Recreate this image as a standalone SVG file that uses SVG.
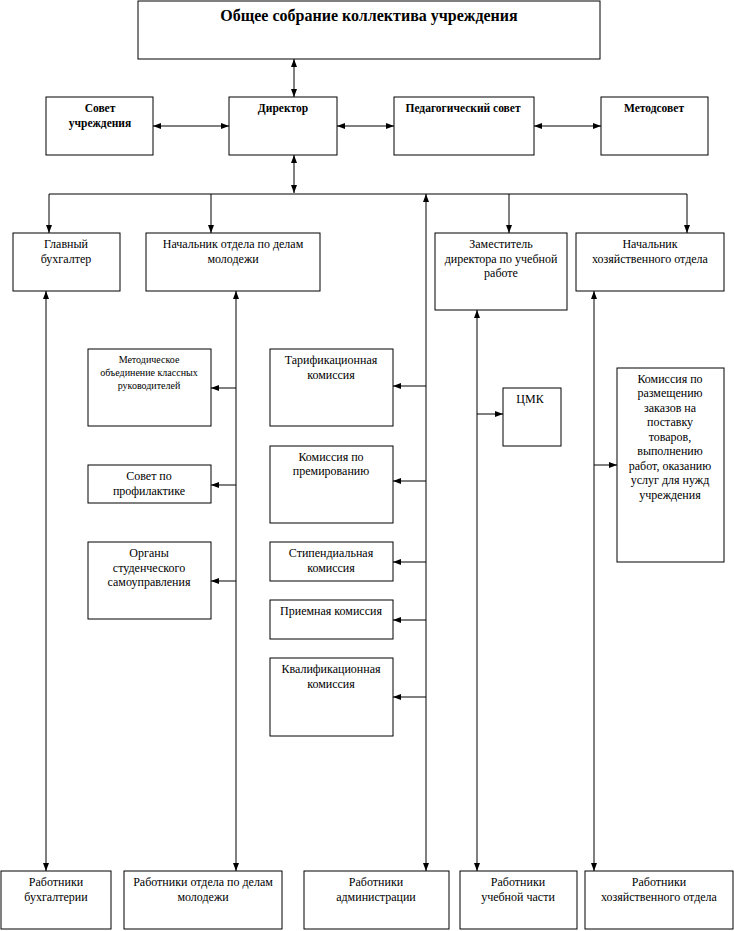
<svg xmlns="http://www.w3.org/2000/svg" width="734" height="931" viewBox="0 0 734 931">
<style>
rect{fill:#fff;stroke:#000;stroke-width:1}
text{font-family:'Liberation Serif','Times New Roman','DejaVu Serif',serif;font-size:12px;fill:#000;text-anchor:middle}
.b{font-weight:bold;font-size:11.5px}
.t{font-weight:bold;font-size:16px}
.s{font-size:10px}
.c line{stroke:#000;stroke-width:1;fill:none}
.e{marker-end:url(#a)}
.d{marker-start:url(#a);marker-end:url(#a)}
</style>
<defs>
<marker id="a" viewBox="0 0 8 6" refX="8" refY="3" markerWidth="8" markerHeight="6" markerUnits="userSpaceOnUse" orient="auto-start-reverse">
<path d="M0,0 L8,3 L0,6 z" fill="#000"/>
</marker>
</defs>
<rect x="0" y="0" width="734" height="931" style="stroke:none"/>
<g class="c" id="connectors">
<line class="d" x1="294" y1="59" x2="294" y2="97"/>
<line class="d" x1="153" y1="126" x2="229" y2="126"/>
<line class="d" x1="337" y1="126" x2="394" y2="126"/>
<line class="d" x1="534" y1="126" x2="601" y2="126"/>
<line class="d" x1="294" y1="155" x2="294" y2="193"/>
<line x1="49" y1="194" x2="687" y2="194"/>
<line class="e" x1="49" y1="194" x2="49" y2="233"/>
<line class="e" x1="211" y1="194" x2="211" y2="233"/>
<line class="e" x1="509" y1="194" x2="509" y2="233"/>
<line class="e" x1="687" y1="194" x2="687" y2="233"/>
<line class="d" x1="426" y1="194" x2="426" y2="871"/>
<line class="d" x1="46" y1="291" x2="46" y2="871"/>
<line class="d" x1="236" y1="291" x2="236" y2="871"/>
<line class="d" x1="477" y1="310" x2="477" y2="871"/>
<line class="d" x1="594" y1="291" x2="594" y2="871"/>
<line class="e" x1="236" y1="388" x2="211" y2="388"/>
<line class="e" x1="236" y1="485" x2="211" y2="485"/>
<line class="e" x1="236" y1="581" x2="211" y2="581"/>
<line class="e" x1="426" y1="386" x2="393" y2="386"/>
<line class="e" x1="426" y1="481" x2="393" y2="481"/>
<line class="e" x1="426" y1="562" x2="393" y2="562"/>
<line class="e" x1="426" y1="620" x2="393" y2="620"/>
<line class="e" x1="426" y1="697" x2="393" y2="697"/>
<line class="e" x1="477" y1="414" x2="503" y2="414"/>
<line class="e" x1="594" y1="465" x2="617" y2="465"/>
</g>
<g id="n1"><rect x="138" y="1" width="462" height="58"/><text class="t" x="369" y="21">Общее собрание коллектива учреждения</text></g>
<g id="n2"><rect x="46" y="97" width="107" height="58"/><text class="b" x="100" y="112">Совет</text><text class="b" x="100" y="127">учреждения</text></g>
<g id="n3"><rect x="229" y="97" width="108" height="58"/><text class="b" x="283" y="112">Директор</text></g>
<g id="n4"><rect x="394" y="97" width="140" height="58"/><text class="b" x="463" y="112">Педагогический совет</text></g>
<g id="n5"><rect x="601" y="97" width="107" height="58"/><text class="b" x="654" y="112">Методсовет</text></g>
<g id="n6"><rect x="13" y="233" width="107" height="58"/><text x="66" y="248">Главный</text><text x="66" y="263">бухгалтер</text></g>
<g id="n7"><rect x="146" y="233" width="174" height="58"/><text x="233" y="248">Начальник отдела по делам</text><text x="233" y="263">молодежи</text></g>
<g id="n8"><rect x="435" y="233" width="132" height="77"/><text x="501" y="248">Заместитель</text><text x="501" y="263">директора по учебной</text><text x="501" y="277">работе</text></g>
<g id="n9"><rect x="576" y="233" width="148" height="58"/><text x="650" y="248">Начальник</text><text x="650" y="263">хозяйственного отдела</text></g>
<g id="n10"><rect x="88" y="349" width="123" height="77"/><text class="s" x="149" y="363">Методическое</text><text class="s" x="149" y="376">объединение классных</text><text class="s" x="149" y="389">руководителей</text></g>
<g id="n11"><rect x="88" y="465" width="123" height="38"/><text x="149" y="480">Совет по</text><text x="149" y="495">профилактике</text></g>
<g id="n12"><rect x="88" y="542" width="123" height="77"/><text x="149" y="557">Органы</text><text x="149" y="572">студенческого</text><text x="149" y="586">самоуправления</text></g>
<g id="n13"><rect x="270" y="349" width="123" height="77"/><text x="331" y="364">Тарификационная</text><text x="331" y="379">комиссия</text></g>
<g id="n14"><rect x="270" y="446" width="123" height="77"/><text x="331" y="461">Комиссия по</text><text x="331" y="475">премированию</text></g>
<g id="n15"><rect x="270" y="542" width="123" height="39"/><text x="331" y="557">Стипендиальная</text><text x="331" y="572">комиссия</text></g>
<g id="n16"><rect x="270" y="600" width="123" height="39"/><text x="331" y="615">Приемная комиссия</text></g>
<g id="n17"><rect x="270" y="658" width="123" height="78"/><text x="331" y="673">Квалификационная</text><text x="331" y="688">комиссия</text></g>
<g id="n18"><rect x="503" y="388" width="58" height="58"/><text x="530" y="403">ЦМК</text></g>
<g id="n19"><rect x="617" y="368" width="107" height="194"/><text x="670" y="383">Комиссия по</text><text x="670" y="397">размещению</text><text x="670" y="412">заказов на</text><text x="670" y="426">поставку</text><text x="670" y="441">товаров,</text><text x="670" y="455">выполнению</text><text x="670" y="470">работ, оказанию</text><text x="670" y="484">услуг для нужд</text><text x="670" y="499">учреждения</text></g>
<g id="n20"><rect x="1" y="871" width="110" height="58"/><text x="56" y="886">Работники</text><text x="56" y="901">бухгалтерии</text></g>
<g id="n21"><rect x="124" y="871" width="158" height="58"/><text x="203" y="886">Работники отдела по делам</text><text x="203" y="901">молодежи</text></g>
<g id="n22"><rect x="304" y="871" width="145" height="58"/><text x="376" y="886">Работники</text><text x="376" y="901">администрации</text></g>
<g id="n23"><rect x="460" y="871" width="117" height="58"/><text x="518" y="886">Работники</text><text x="518" y="901">учебной части</text></g>
<g id="n24"><rect x="585" y="871" width="148" height="58"/><text x="659" y="886">Работники</text><text x="659" y="901">хозяйственного отдела</text></g>
</svg>
